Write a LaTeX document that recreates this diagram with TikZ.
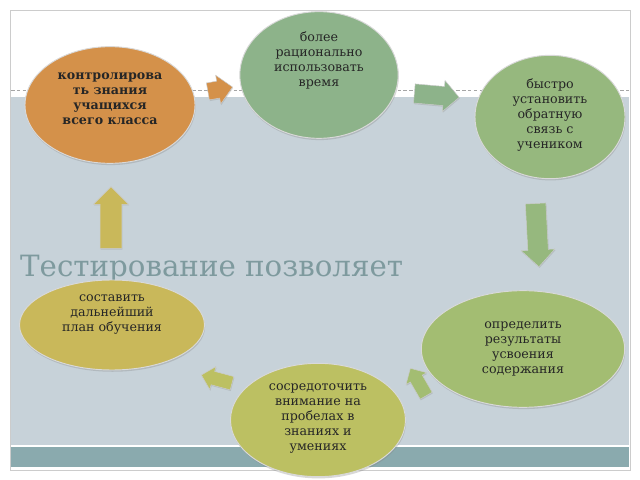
\documentclass[tikz,border=0pt]{standalone}
\usepackage{fontspec}
\setmainfont{DejaVu Serif}
\usetikzlibrary{shapes.geometric,shapes.arrows,shadows}
\definecolor{bgblue}{HTML}{C7D2D9}
\definecolor{band}{HTML}{8AAAAE}
\definecolor{orng}{HTML}{D4914A}
\definecolor{grnA}{HTML}{8DB38A}
\definecolor{grnB}{HTML}{96B87E}
\definecolor{grnC}{HTML}{A3BD72}
\definecolor{ylgr}{HTML}{BCC062}
\definecolor{ochre}{HTML}{C9B85A}
\definecolor{titlec}{HTML}{7E9A9E}
\begin{document}
\begin{tikzpicture}[x=0.03cm, y=-0.03cm,
    bubble/.style={ellipse, draw=white!85!black, line width=0.8pt, drop shadow={opacity=0.3, shadow xshift=0.5pt, shadow yshift=-1.5pt}},
    txt/.style={font=\fontsize{10.8}{12.8}\selectfont, align=center, text=black!85},
    blk/.style={single arrow, draw=white!80!black, line width=0.4pt, drop shadow={opacity=0.25, shadow xshift=0.5pt, shadow yshift=-1pt}, inner xsep=0pt}
]
    % background
    \useasboundingbox (0,0) rectangle (640,480);
    \fill[white] (0,0) rectangle (640,480);
    \draw[black!20, fill=white] (10,10) rectangle (630,470);
    \fill[bgblue] (11,97) rectangle (629,445);
    \fill[band] (11,447) rectangle (629,467);
    \draw[black!35, densely dashed, line width=0.3pt] (11,90) -- (629,90);

    % title
    \node[anchor=west, text=titlec, font=\fontsize{25}{27}\selectfont] (title) at (16,269) {Тестирование позволяет};

    % bubbles
    \node[bubble, fill=orng, minimum width=5.1cm, minimum height=3.5cm] (ctrl) at (110,105) {};
    \node[txt, font=\bfseries\fontsize{10.8}{12.8}\selectfont] at ([yshift=0.2cm]ctrl.center) {контролирова\\ть знания\\учащихся\\всего класса};
    \node[bubble, fill=grnA, minimum width=4.75cm, minimum height=3.8cm] (time) at (319,75) {};
    \node[txt] at ([yshift=0.45cm]time.center) {более\\рационально\\использовать\\время};
    \node[bubble, fill=grnB, minimum width=4.5cm, minimum height=3.7cm] (fb) at (550,117) {};
    \node[txt] at ([yshift=0.05cm]fb.center) {быстро\\установить\\обратную\\связь с\\учеником};
    \node[bubble, fill=grnC, minimum width=6.1cm, minimum height=3.5cm] (res) at (523,349) {};
    \node[txt] at (res.center) {определить\\результаты\\усвоения\\содержания};
    \node[bubble, fill=ylgr, minimum width=5.25cm, minimum height=3.4cm] (gaps) at (318,420) {};
    \node[txt] at ([yshift=0.05cm]gaps.center) {сосредоточить\\внимание на\\пробелах в\\знаниях и\\умениях};
    \node[bubble, fill=ochre, minimum width=5.55cm, minimum height=2.7cm] (plan) at (112,325) {};
    \node[txt] at ([yshift=0.3cm]plan.center) {составить\\дальнейший\\план обучения};

    % arrows
    \node[blk, fill=orng, minimum height=0.75cm, inner ysep=0.25cm, single arrow head extend=0.18cm, rotate=10] (a1) at (216,90) {};
    \node[blk, fill=grnA, minimum height=1.35cm, inner ysep=0.28cm, single arrow head extend=0.18cm, rotate=-5] (a2) at (432,95) {};
    \node[blk, fill=grnB, minimum height=1.9cm, inner ysep=0.3cm, single arrow head extend=0.2cm, rotate=-87] (a3) at (537,230) {};
    \node[blk, fill=grnC, minimum height=0.95cm, inner ysep=0.2cm, single arrow head extend=0.15cm, rotate=120] (a4) at (420,385) {};
    \node[blk, fill=ylgr, minimum height=0.95cm, inner ysep=0.2cm, single arrow head extend=0.15cm, rotate=165] (a5) at (220,380) {};
    \node[blk, fill=ochre, minimum height=1.85cm, inner ysep=0.32cm, single arrow head extend=0.2cm, rotate=90] (a6) at (111,223) {};
\end{tikzpicture}
\end{document}
